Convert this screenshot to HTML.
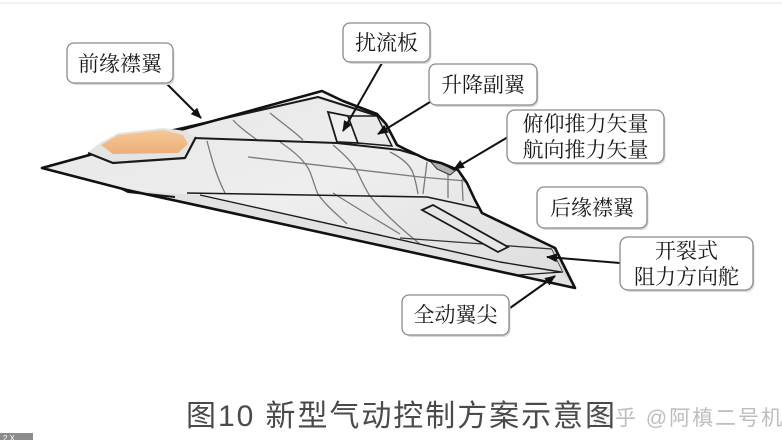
<!DOCTYPE html>
<html><head><meta charset="utf-8">
<style>
html,body{margin:0;padding:0;background:#fff;}
body{width:782px;height:440px;overflow:hidden;position:relative;}
svg{position:absolute;left:0;top:0;}
.lbl text{font-family:"Noto Serif CJK SC","Noto Serif CJK JP","Noto Serif CJK TC",serif;}
</style></head>
<body>
<svg width="782" height="440" viewBox="0 0 782 440" xmlns="http://www.w3.org/2000/svg">
<defs>
<marker id="ah" markerWidth="11" markerHeight="9" refX="10" refY="4.5" orient="auto" markerUnits="userSpaceOnUse">
<path d="M0,0 L11,4.5 L0,9 Z" fill="#111"/>
</marker>
<linearGradient id="body" x1="0" y1="0" x2="1" y2="1">
<stop offset="0" stop-color="#e6e6e6"/>
<stop offset="0.5" stop-color="#eeeeee"/>
<stop offset="1" stop-color="#dcdcdc"/>
</linearGradient>
<linearGradient id="can" x1="0" y1="0" x2="0" y2="1">
<stop offset="0" stop-color="#f6c896"/>
<stop offset="1" stop-color="#eab07a"/>
</linearGradient>
</defs>
<rect x="0" y="0" width="782" height="440" fill="#fff"/>
<line x1="0" y1="3" x2="782" y2="3" stroke="#f2f2f2" stroke-width="2"/>

<!-- aircraft body -->
<polygon points="42,168 322,91 343,101 377,114 386,124 397,145 407,150 428,160 441,163 458,170 467,183 475,200 482,213 555,248 575,288 127,190" fill="url(#body)" stroke="none"/>
<polygon points="127,190 200,195 500,262 561,272 575,288" fill="#e2e2e2"/>
<polygon points="160,133 318,97 378,116 377,114 343,101 322,91 200,124" fill="#f2f2f2"/>

<!-- gray panel lines -->
<g fill="none" stroke="#7a7a7a" stroke-width="1.3">
<path d="M207,141 C212,160 216,175 225,193"/>
<path d="M233,120 C240,128 248,133 257,140"/>
<path d="M270,113 C282,123 295,132 303,140"/>
<path d="M280,142 C295,152 306,162 310,172 C314,182 315,188 318,194 C326,206 338,215 347,224"/>
<path d="M333,145 C345,155 353,163 357,171 C362,182 366,190 370,196 C385,215 405,232 420,244"/>
<path d="M390,152 C402,158 410,165 413,173 C416,182 417,188 418,194"/>
<path d="M248,157 L420,177 L466,181"/>
<path d="M427,162 L423,194"/>
<path d="M448,170 L448,198"/>
<path d="M462,179 L463,201"/>
<path d="M333,193 C360,210 385,225 400,234"/>
</g>

<!-- dark structural lines -->
<g fill="none" stroke="#1a1a1a" stroke-linejoin="round">
<path d="M160,133 L318,97 L378,116" stroke-width="2"/>
<path d="M193,138 L337,143 L400,150 L417,155 L430,161 L455,171" stroke-width="2"/>
<path d="M187,193 L427,197 L478,208" stroke-width="1.6"/>
<path d="M200,195 L500,262 L561,272" stroke-width="1.4"/>
<path d="M400,238 L552,249" stroke-width="1.3" stroke="#333"/>
<path d="M518,275 L563,272" stroke-width="1.3"/>
<path d="M552,249 L563,272" stroke-width="1.3"/>
</g>

<!-- spoiler & elevon -->
<polygon points="328,112 348,116 358,143 337,142" fill="#efefef" stroke="#1a1a1a" stroke-width="1.8"/>
<polygon points="348,116 377,116 392,146 358,143" fill="#eaeaea" stroke="#1a1a1a" stroke-width="1.5"/>

<!-- exhaust nozzle -->
<polygon points="430,161 441,163 455,171 450,175 437,169" fill="#b0b0b0" stroke="#333" stroke-width="1"/>

<!-- trailing edge flap -->
<polygon points="422,210 433,205 508,247 498,252" fill="#e6e6e6" stroke="#1a1a1a" stroke-width="1.8"/>

<polygon points="552,249 555,248 575,288 563,272" fill="#d2d2d2"/>

<path d="M120,188 L128,192 L175,197" fill="none" stroke="#1a1a1a" stroke-width="2"/>

<!-- outer outline -->
<polygon points="42,168 322,91 343,101 377,114 386,124 397,145 407,150 428,160 441,163 458,170 467,183 475,200 482,213 555,248 575,288 127,190" fill="none" stroke="#111" stroke-width="2.6" stroke-linejoin="round"/>

<!-- canopy (over outline) -->
<polygon points="88,152 100,143 118,133 163,128 186,131 196,137 185,158 113,163" fill="#e4e4e4"/>
<path d="M88,153 L113,163 L185,158 L196,137" fill="none" stroke="#1a1a1a" stroke-width="2.2" stroke-linejoin="round"/>
<polygon points="101,145 118,135 163,130 183,135 188,144 178,153 113,154" fill="url(#can)"/>

<!-- arrows -->
<g stroke="#111" stroke-width="2" fill="none">
<line x1="167" y1="84" x2="201" y2="118" marker-end="url(#ah)"/>
<line x1="382" y1="63" x2="343" y2="131" marker-end="url(#ah)"/>
<line x1="430" y1="102" x2="378" y2="134" marker-end="url(#ah)"/>
<line x1="508" y1="137" x2="454" y2="169" marker-end="url(#ah)"/>
<line x1="620" y1="263" x2="547" y2="257" marker-end="url(#ah)"/>
<line x1="510" y1="308" x2="555" y2="276" marker-end="url(#ah)"/>
</g>

<!-- label boxes -->
<g fill="#fff" stroke="#8a8a8a" stroke-width="1.3">
<rect x="68" y="44" width="105" height="39" rx="7" fill="#d8d8d8" stroke="none" transform="translate(1.5,2)"/>
<rect x="67" y="43" width="106" height="40" rx="7"/>
<rect x="344" y="24" width="86" height="38" rx="7" fill="#d8d8d8" stroke="none" transform="translate(1.5,2)"/>
<rect x="343" y="23" width="87" height="39" rx="7"/>
<rect x="430" y="65" width="107" height="40" rx="7" fill="#d8d8d8" stroke="none" transform="translate(1.5,2)"/>
<rect x="429" y="64" width="108" height="41" rx="7"/>
<rect x="508" y="111" width="156" height="52" rx="8" fill="#d8d8d8" stroke="none" transform="translate(1.5,2)"/>
<rect x="507" y="110" width="157" height="53" rx="8"/>
<rect x="538" y="188" width="109" height="40" rx="7" fill="#d8d8d8" stroke="none" transform="translate(1.5,2)"/>
<rect x="537" y="187" width="110" height="41" rx="7"/>
<rect x="621" y="238" width="132" height="52" rx="8" fill="#d8d8d8" stroke="none" transform="translate(1.5,2)"/>
<rect x="620" y="237" width="133" height="53" rx="8"/>
<rect x="403" y="296" width="106" height="39" rx="7" fill="#d8d8d8" stroke="none" transform="translate(1.5,2)"/>
<rect x="402" y="295" width="107" height="40" rx="7"/>
</g>

<!-- label texts -->
<g class="lbl" style="font-family:'Noto Serif CJK SC','Noto Serif CJK JP','Noto Serif CJK TC',serif;font-size:21px;" fill="#1a1a1a" text-anchor="middle">
<text x="120" y="71">前缘襟翼</text>
<text x="386.5" y="50">扰流板</text>
<text x="483" y="92">升降副翼</text>
<text x="585.5" y="131">俯仰推力矢量</text>
<text x="585.5" y="157">航向推力矢量</text>
<text x="592" y="215">后缘襟翼</text>
<text x="686.5" y="258">开裂式</text>
<text x="686.5" y="284">阻力方向舵</text>
<text x="455.5" y="322">全动翼尖</text>
</g>

<!-- watermark (under caption) -->
<text x="592" y="425" font-family="'Liberation Sans','Noto Sans CJK SC',sans-serif" font-size="21" fill="#bdbdbd" textLength="190" lengthAdjust="spacing">知乎 @阿槙二号机</text>
<rect x="586" y="402" width="28" height="28" fill="#fff" fill-opacity="0.6"/>
<text x="186" y="426" font-family="'Liberation Sans','Noto Sans CJK SC',sans-serif" font-size="30" fill="#4a4a4a" textLength="429" lengthAdjust="spacing">图10 新型气动控制方案示意图</text>

<rect x="0" y="433" width="33" height="7" fill="#8c8c8c"/>
<text x="3" y="441" font-family="'Liberation Sans',sans-serif" font-size="8" fill="#fff">2 X</text>
</svg>
</body></html>
